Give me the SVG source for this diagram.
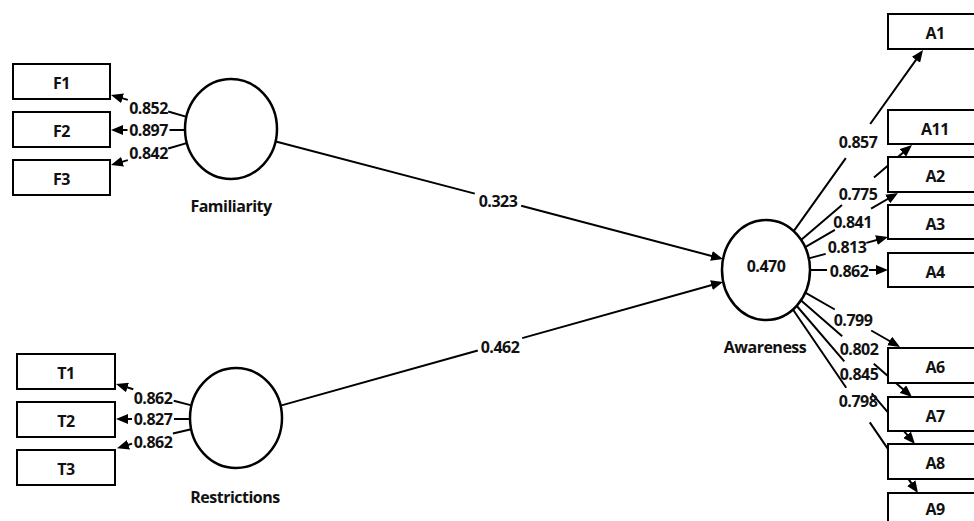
<svg xmlns="http://www.w3.org/2000/svg" width="974" height="521" viewBox="0 0 974 521">
<style>
text{font-family:"Open Sans","Noto Sans","Liberation Sans",sans-serif;font-weight:bold;font-size:16px;letter-spacing:-0.5px;fill:#111;text-anchor:middle}
.box{fill:#fff;stroke:#000;stroke-width:2}
.lv{fill:#fff;stroke:#000;stroke-width:2.5}
.ln{fill:none;stroke:#000;stroke-width:2;marker-end:url(#ah)}
</style>
<defs>
<marker id="ah" markerUnits="userSpaceOnUse" markerWidth="12" markerHeight="10" viewBox="0 0 12 10" refX="7" refY="5" orient="auto">
<path d="M0,0 L12,5 L0,10 z" fill="#000"/>
</marker>
</defs>
<rect width="974" height="521" fill="#fff"/>
<g id="connectors">
<path class="ln" d="M188.4,117.4 L168.2,111.5 M127.8,99.9 L115.8,96.4"/>
<path class="ln" d="M186,130 L169.5,130 M127.5,130 L116,130"/>
<path class="ln" d="M188.4,142.6 L168.2,148.5 M127.8,160.1 L115.8,163.6"/>
<path class="ln" d="M191.5,405.4 L173.7,400.7 M133.3,389.3 L120.8,385.4"/>
<path class="ln" d="M190,419 L174,419 M132,419 L121,419"/>
<path class="ln" d="M191.2,429.3 L172.9,433.4 M132.1,443.6 L121.8,446.8"/>
<path class="ln" d="M275.8,141.5 L474.8,193.6 M521.2,205.8 L718.2,257.7"/>
<path class="ln" d="M280.6,405.6 L477.8,350.5 M522.2,338.1 L718.2,283.3"/>
<path class="ln" d="M793.9,230.9 L845.8,158.2 M870.2,124 L920.1,54.1"/>
<path class="ln" d="M801.3,239.8 L842,204.9 M874,177.5 L908.2,148.3"/>
<path class="ln" d="M805.2,247.1 L834.9,229.9 M871.1,208.7 L893.7,195.5"/>
<path class="ln" d="M808.8,258.4 L825.7,253.9 M866.3,242.9 L883.2,238.3"/>
<path class="ln" d="M810,270 L827,270 M869,270 L883,270"/>
<path class="ln" d="M805.3,292.6 L834.8,309.5 M871.2,330.5 L895.7,344.5"/>
<path class="ln" d="M801.1,300.5 L842.2,336.2 M873.8,363.8 L908.2,393.7"/>
<path class="ln" d="M796.8,306 L844.3,361.4 M871.7,393.4 L911.7,440.2"/>
<path class="ln" d="M793.1,309.8 L846.2,387.7 M869.8,422.4 L915.2,488.9"/>
<text x="148.5" y="114">0.852</text>
<text x="148.5" y="136">0.897</text>
<text x="148.5" y="159">0.842</text>
<text x="153" y="403.5">0.862</text>
<text x="153" y="424.5">0.827</text>
<text x="153" y="448">0.862</text>
<text x="498" y="206.5">0.323</text>
<text x="500" y="352.5">0.462</text>
<text x="858" y="148">0.857</text>
<text x="858" y="199.5">0.775</text>
<text x="852.5" y="228">0.841</text>
<text x="847" y="253">0.813</text>
<text x="849" y="276.5">0.862</text>
<text x="853" y="325.5">0.799</text>
<text x="859" y="354.5">0.802</text>
<text x="859" y="379.5">0.845</text>
<text x="858" y="407">0.798</text>
</g>
<g id="Familiarity"><ellipse class="lv" cx="231" cy="129" rx="46" ry="50"/><text x="231" y="212">Familiarity</text></g>
<g id="Restrictions"><ellipse class="lv" cx="236" cy="418" rx="46" ry="50"/><text x="235" y="502.5">Restrictions</text></g>
<g id="Awareness"><ellipse class="lv" cx="766" cy="270" rx="44" ry="50"/><text x="766" y="272">0.470</text><text x="765" y="352.5">Awareness</text></g>
<g id="F1"><rect class="box" x="13" y="64" width="97" height="35"/><text x="61.5" y="89">F1</text></g>
<g id="F2"><rect class="box" x="13" y="112" width="97" height="35"/><text x="61.5" y="137">F2</text></g>
<g id="F3"><rect class="box" x="13" y="160" width="97" height="35"/><text x="61.5" y="185">F3</text></g>
<g id="T1"><rect class="box" x="17" y="354" width="98" height="35"/><text x="66" y="379">T1</text></g>
<g id="T2"><rect class="box" x="17" y="402" width="98" height="35"/><text x="66" y="427">T2</text></g>
<g id="T3"><rect class="box" x="17" y="450" width="98" height="35"/><text x="66" y="475">T3</text></g>
<g id="A1"><rect class="box" x="888" y="14" width="97" height="35"/><text x="935" y="39">A1</text></g>
<g id="A11"><rect class="box" x="888" y="110" width="97" height="34"/><text x="935" y="134.5">A11</text></g>
<g id="A2"><rect class="box" x="888" y="157" width="97" height="35"/><text x="935" y="182">A2</text></g>
<g id="A3"><rect class="box" x="888" y="205" width="97" height="34"/><text x="935" y="229.5">A3</text></g>
<g id="A4"><rect class="box" x="888" y="253" width="97" height="34"/><text x="935" y="277.5">A4</text></g>
<g id="A6"><rect class="box" x="888" y="348" width="97" height="35"/><text x="935" y="373">A6</text></g>
<g id="A7"><rect class="box" x="888" y="397" width="97" height="34"/><text x="935" y="421.5">A7</text></g>
<g id="A8"><rect class="box" x="888" y="444" width="97" height="35"/><text x="935" y="469">A8</text></g>
<g id="A9"><rect class="box" x="888" y="493" width="97" height="35"/><text x="935" y="514.5">A9</text></g>
</svg>
